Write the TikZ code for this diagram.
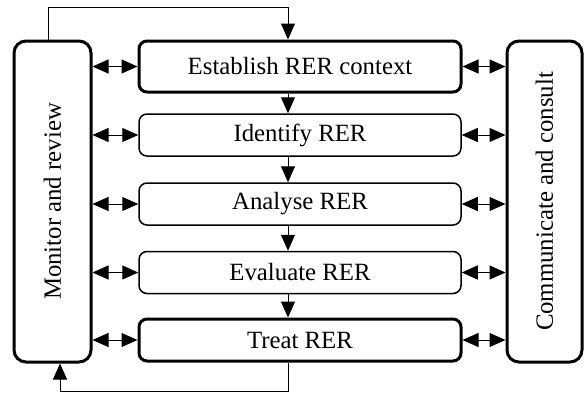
\documentclass[tikz,border=0pt]{standalone}
\usepackage{fontspec}
\setmainfont{Liberation Serif}
\usetikzlibrary{arrows.meta}

\begin{document}
\begin{tikzpicture}[x=1pt, y=1pt, line join=round,
    font=\fontsize{12.4}{14}\selectfont,
    stepbox/.style={draw, rounded corners=4pt, line width=0.75pt,
      minimum width=161pt, minimum height=21pt, inner sep=0pt},
    sidebox/.style={draw, rounded corners=6pt, line width=1.5pt,
      minimum height=160.5pt, inner sep=0pt},
    link/.style={line width=0.5pt, -{Triangle[length=8pt, width=7pt]}},
    twoway/.style={line width=0.5pt,
      {Triangle[length=8pt, width=7pt]}-{Triangle[length=8pt, width=7pt]}}]
  \useasboundingbox (0,0) rectangle (292,196.5);
  % side boxes
  \node[sidebox, minimum width=38.5pt] (mon) at (26.25,95.75)
    {\rotatebox{90}{Monitor and review}};
  \node[sidebox, minimum width=37.5pt] (com) at (272.25,95.75)
    {\rotatebox{90}{Communicate and consult}};
  % process steps
  \node[stepbox, line width=1.5pt, minimum height=25.5pt] (est) at (150,163.25)
    {Establish RER context};
  \foreach \n/\y/\t in {ide/129/Identify RER, ana/94.5/Analyse RER,
      eva/60.25/Evaluate RER} {
    \node[stepbox] (\n) at (150,\y) {\t};
  }
  \node[stepbox, line width=1.5pt] (tre) at (150,26.5) {Treat RER};
  % flow down
  \foreach \a/\b in {est/ide, ide/ana, ana/eva, eva/tre} {
    \draw[link] ([xshift=-6pt]\a.south) -- ([xshift=-6pt]\b.north);
  }
  % links to the side boxes
  \foreach \s in {est, ide, ana, eva, tre} {
    \draw[twoway] (mon.east |- \s.west) -- (\s.west);
    \draw[twoway] (\s.east) -- (com.west |- \s.east);
  }
  % feedback loop
  \draw[link] ([xshift=-2.25pt]mon.north) |- (144,193) -- ([xshift=-6pt]est.north);
  \draw[link] ([xshift=-6pt]tre.south) |- (30,1) -- ([xshift=3.75pt]mon.south);
\end{tikzpicture}
\end{document}
